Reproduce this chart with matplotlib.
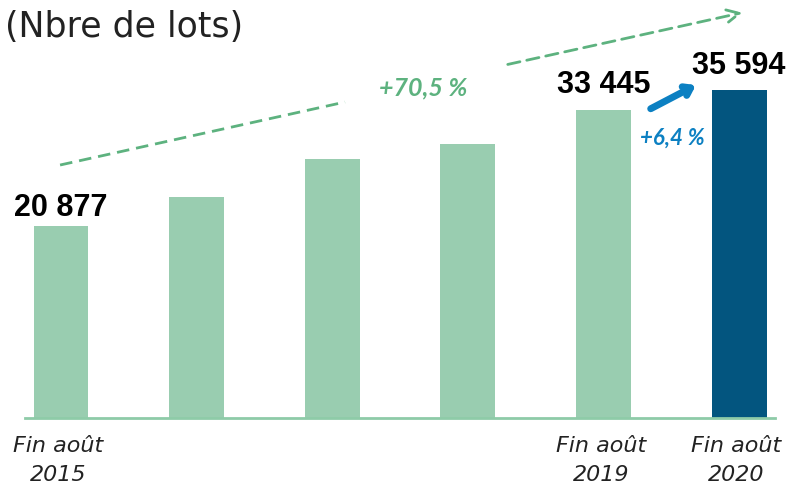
import numpy as np
from matplotlib import pyplot as plt

years = ['2015', '2016', '2017', '2018', '2019', '2020']
lots = [20877, 24000, 28130, 29760, 33445, 35594]
tick_labels = ['Fin août\n2015', '', '', '', 'Fin août\n2019', 'Fin août\n2020']
shown = {0: '20 877', 4: '33 445', 5: '35 594'}

green = '#99CDB0'
navy = '#03557F'
dash_green = '#5DB27F'
blue = '#0C80C2'

fig = plt.figure(figsize=(7.92, 4.91), dpi=100)
ax = fig.add_axes([0, 0, 1, 1])
x = np.arange(len(years))
colors = [green] * (len(years) - 1) + [navy]
ax.bar(x, lots, width=0.405, color=colors, zorder=2)
ax.set_xlim(-0.45, 5.39)
ax.set_ylim(-7930, 45400)
ax.axis('off')

# baseline
ax.axhline(0, xmin=0.032, xmax=0.978, color='#8ECBA8', lw=2, zorder=3)

# value labels
for i, txt in shown.items():
    off = 2 if i == 0 else 7
    ax.annotate(txt, (x[i], lots[i]), xytext=(0, off), textcoords='offset points',
                ha='center', va='bottom', fontsize=22, fontweight='bold',
                family='Liberation Sans', color='black')

# x labels
for i, lab in enumerate(tick_labels):
    if lab:
        ax.text(x[i] - 0.02, -2000, lab, ha='center', va='top', fontsize=16,
                style='italic', family='DejaVu Sans', color='#222222', linespacing=1.55)

ax.text(0.006, 0.945, '(Nbre de lots)', transform=ax.transAxes, ha='left', va='center',
        fontsize=25, family='DejaVu Sans', color='#222222')

# overall growth dashed arrow
ax.plot([-0.007, 2.094], [27476, 34318], ls=(0, (4.5, 2.5)), color=dash_green, lw=2)
ax.annotate('', xy=(5.044, 44092), xytext=(3.274, 38336),
            arrowprops=dict(arrowstyle='->,head_length=0.9,head_width=0.45',
                            ls=(0, (4.5, 2.5)), color=dash_green, lw=2))
ax.text(2.67, 35840, '+70,5 %', ha='center', va='center', fontsize=18,
        fontweight='bold', style='italic', family='Lato', color=dash_green)

# last year growth
ax.annotate('', xy=(4.70, 36300), xytext=(4.33, 33450),
            arrowprops=dict(arrowstyle='->,head_length=0.5,head_width=0.35',
                            color=blue, lw=5))
ax.text(4.51, 30400, '+6,4 %', ha='center', va='center', fontsize=16,
        fontweight='bold', style='italic', family='Lato', color=blue)

fig.savefig('out.png', dpi=100)
